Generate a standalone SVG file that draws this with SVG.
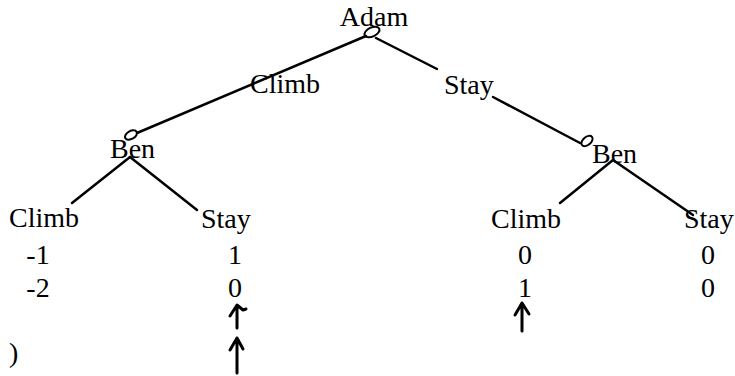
<svg xmlns="http://www.w3.org/2000/svg" width="735" height="376" viewBox="0 0 735 376">
<style>
text{font-family:'Liberation Serif','DejaVu Serif','Times New Roman',serif;font-size:28px;fill:#000}
.n{text-anchor:middle}
.e{stroke:#000;stroke-width:2.5;fill:none;stroke-linecap:round}
.k{stroke:#000;stroke-width:2;fill:none}
.ar{stroke:#000;stroke-width:3;fill:none;stroke-linecap:round;stroke-linejoin:round}
</style>
<rect width="735" height="376" fill="#fff"/>
<g id="connectors">
<line class="e" x1="366" y1="36" x2="137" y2="133"/>
<line class="e" x1="376" y1="38" x2="437" y2="69"/>
<line class="e" x1="493" y1="97" x2="580" y2="143"/>
<line class="e" x1="130" y1="157" x2="72" y2="203"/>
<line class="e" x1="130" y1="157" x2="197" y2="210"/>
<line class="e" x1="613" y1="160" x2="560" y2="203"/>
<line class="e" x1="613" y1="160" x2="693" y2="215"/>
</g>
<g id="adam">
<text class="n" x="374" y="26">Adam</text>
<ellipse class="k" cx="372" cy="32" rx="8" ry="4.5" transform="rotate(-25 372 32)"/>
</g>
<g id="label-climb">
<text x="250" y="93">Climb</text>
</g>
<g id="label-stay">
<text x="444" y="94">Stay</text>
</g>
<g id="ben-left">
<text x="110" y="158">Ben</text>
<ellipse class="k" cx="131" cy="135" rx="6.5" ry="4" transform="rotate(-30 131 135)"/>
</g>
<g id="ben-right">
<text x="592" y="163">Ben</text>
<ellipse class="k" cx="587" cy="141" rx="6.5" ry="4" transform="rotate(-40 587 141)"/>
</g>
<g id="leaf-ll">
<text x="9" y="227">Climb</text>
<text class="n" x="38" y="264">-1</text>
<text class="n" x="38" y="297">-2</text>
</g>
<g id="leaf-lr">
<text x="201" y="228">Stay</text>
<text class="n" x="235" y="264">1</text>
<text class="n" x="235" y="297">0</text>
<path class="ar" d="M237 328 L237 306 M230 316 L237 305 L243 310 L246 309"/>
<path class="ar" d="M237 373 L237 338 M230 350 L237 338 L243 349"/>
</g>
<g id="leaf-rl">
<text x="491" y="228">Climb</text>
<text class="n" x="525" y="264">0</text>
<text class="n" x="525" y="297">1</text>
<path class="ar" d="M522 331 L522 303 M515 315 L522 303 L529 314"/>
</g>
<g id="leaf-rr">
<text x="684" y="228">Stay</text>
<text class="n" x="708" y="264">0</text>
<text class="n" x="708" y="297">0</text>
</g>
<text x="9" y="362">)</text>
</svg>
